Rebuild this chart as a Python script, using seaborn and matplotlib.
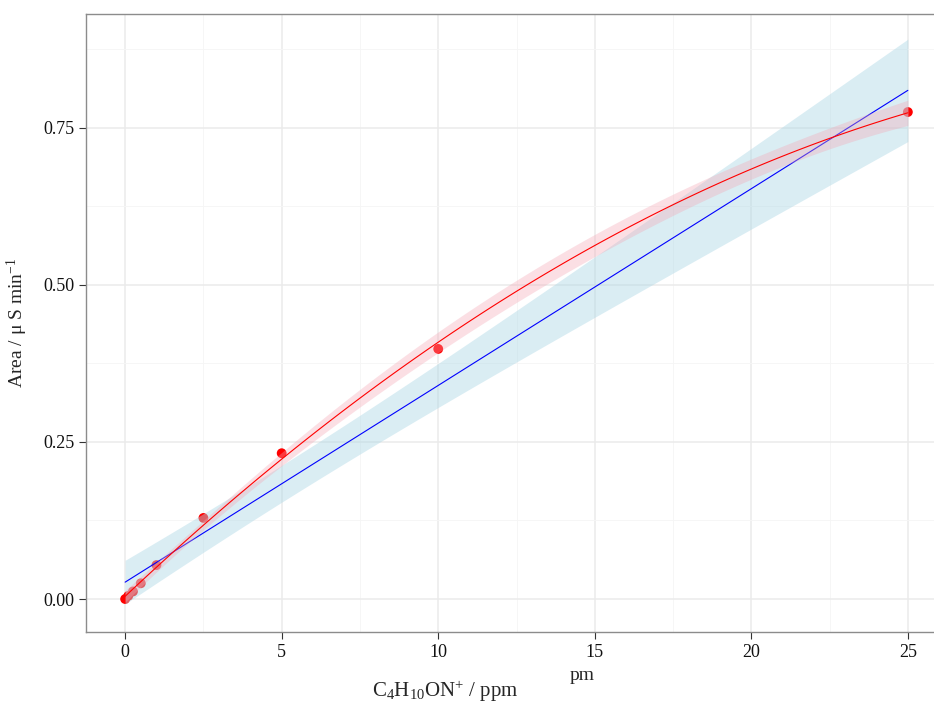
import numpy as np
import pandas as pd
import matplotlib
matplotlib.use("Agg")
import matplotlib.pyplot as plt
import seaborn as sns
from matplotlib.ticker import MultipleLocator

# ---- data ----
conc = [0, 0.1, 0.25, 0.5, 1, 2.5, 5, 10, 25]
area = [0.0, 0.005, 0.012, 0.025, 0.054, 0.129, 0.232, 0.398, 0.775]
xticks = [0, 5, 10, 15, 20, 25]
yticks = [0.00, 0.25, 0.50, 0.75]
ytick_labels = ["0.00", "0.25", "0.50", "0.75"]

df = pd.DataFrame({"conc": conc, "area": area})

sns.set_theme(style="white")
plt.rcParams["font.family"] = ["Liberation Serif", "DejaVu Serif"]
plt.rcParams["mathtext.fontset"] = "custom"
plt.rcParams["mathtext.rm"] = "Liberation Serif"
plt.rcParams["mathtext.it"] = "Liberation Serif:italic"
plt.rcParams["mathtext.bf"] = "Liberation Serif:bold"


def fit_band(x, y, order, tcrit, grid):
    x = np.asarray(x, float)
    y = np.asarray(y, float)
    X = np.vander(x, order + 1)
    beta, *_ = np.linalg.lstsq(X, y, rcond=None)
    resid = y - X @ beta
    dof = len(x) - (order + 1)
    s2 = resid @ resid / dof
    XtXi = np.linalg.inv(X.T @ X)
    G = np.vander(grid, order + 1)
    pred = G @ beta
    se = np.sqrt(s2 * np.einsum("ij,jk,ik->i", G, XtXi, G))
    return pred, pred - tcrit * se, pred + tcrit * se


grid = np.linspace(min(conc), max(conc), 120)
lin_pred, lin_lo, lin_hi = fit_band(conc, area, 1, 2.365, grid)
quad_pred, quad_lo, quad_hi = fit_band(conc, area, 2, 2.447, grid)
fits = pd.DataFrame({"conc": grid, "lin": lin_pred, "quad": quad_pred})

fig = plt.figure(figsize=(9.34, 7.02), dpi=100)
ax = fig.add_axes([86 / 934, 70 / 702, 861 / 934, 618 / 702])

# grid
ax.set_axisbelow(True)
ax.xaxis.set_major_locator(MultipleLocator(5))
ax.xaxis.set_minor_locator(MultipleLocator(2.5))
ax.yaxis.set_major_locator(MultipleLocator(0.25))
ax.yaxis.set_minor_locator(MultipleLocator(0.125))
ax.grid(which="major", color="#EBEBEB", linewidth=1.1)
ax.grid(which="minor", color="#F5F5F5", linewidth=0.6)

sns.scatterplot(data=df, x="conc", y="area", color="#FF0000", s=50,
                edgecolor="none", ax=ax, zorder=3)

ax.fill_between(grid, lin_lo, lin_hi, color="#ADD8E6", alpha=0.45,
                linewidth=0, zorder=4)
sns.lineplot(data=fits, x="conc", y="lin", color="#0000FF", linewidth=0.8,
             ax=ax, zorder=5)
ax.fill_between(grid, quad_lo, quad_hi, color="#F4A6B4", alpha=0.35,
                linewidth=0, zorder=6)
sns.lineplot(data=fits, x="conc", y="quad", color="#FF0000", linewidth=0.8,
             ax=ax, zorder=7)

ax.set_xlim(-1.25, 26.25)
ax.set_ylim(-0.0525, 0.931)
ax.set_xticks(xticks)
ax.set_xticklabels([str(t) for t in xticks])
ax.set_yticks(yticks)
ax.set_yticklabels(ytick_labels)
ax.tick_params(axis="both", which="major", direction="out", length=5,
               width=0.8, color="#333333", labelsize=13, labelcolor="#111111",
               bottom=True, left=True)
ax.tick_params(axis="both", which="minor", length=0)

for side in ["left", "top", "bottom", "right"]:
    ax.spines[side].set_color("#8C8C8C")
    ax.spines[side].set_linewidth(1.0)

ax.set_xlabel("")
ax.set_ylabel("Area / \u03bc S min$^{-1}$", fontsize=14, labelpad=9)

fig.text(582 / 934, 1 - 676 / 702, "pm", ha="center", va="center",
         fontsize=14)
fig.text(445 / 934, 1 - 691 / 702, "C$_4$H$_{10}$ON$^{+}$ / ppm",
         ha="center", va="center", fontsize=15)

fig.savefig("out.png", dpi=100)
